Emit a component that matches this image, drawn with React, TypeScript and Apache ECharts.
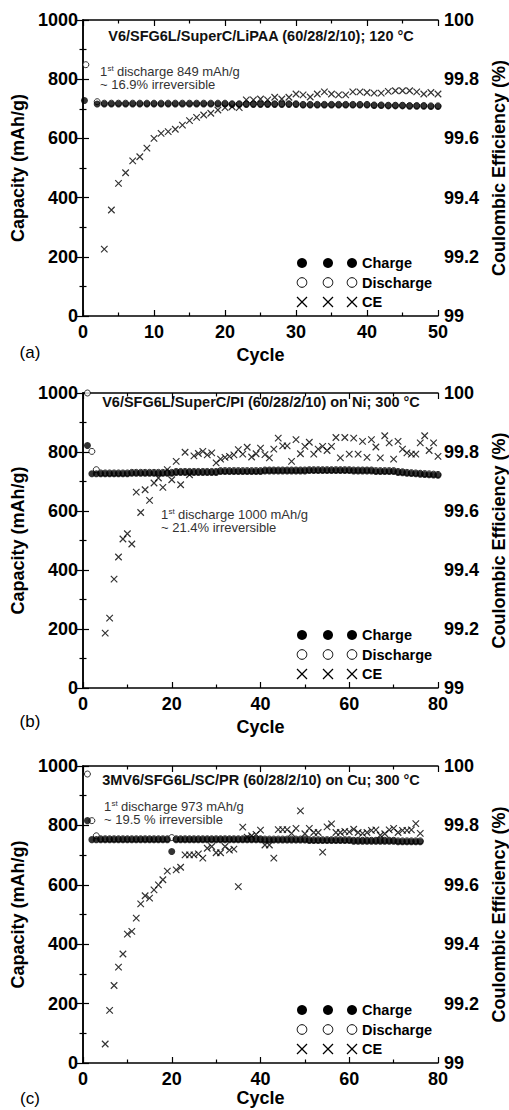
import { useEffect, useRef } from "react";
import * as echarts from "echarts";

const FONT = '"Liberation Sans", Arial, Helvetica, sans-serif';

// ---------------- Panel (a) ----------------
const titleA = "V6/SFG6L/SuperC/LiPAA (60/28/2/10); 120 °C";
const noteA = ["1", "st", "discharge 849 mAh/g", "~ 16.9% irreversible"];
const xMaxA = 50;
const xIntervalA = 10;
const firstChargeA = [[0.2, 728]];
const firstDischargeA = [[0.4, 849], [2, 724]];
const chargeAStart = 2;
const chargeA = [
  716, 716, 716, 716, 716, 716, 716, 716, 716,
  716, 716, 716, 716, 716, 716, 716, 716, 716, 716,
  715, 715, 715, 715, 715, 715, 715, 715, 715, 715,
  713, 713, 713, 713, 713, 713, 713, 713, 713, 713,
  711, 711, 710, 710, 710, 709, 709, 709, 708, 708,
];
const dischargeAStart = 3;
const dischargeA = [
  719, 719, 719, 719, 719, 719, 719, 719, 719, 719, 719, 719, 719, 719, 719, 719, 719, 719,
  717, 717, 717, 717, 717, 717, 717, 717, 717, 717,
  715, 715, 715, 715, 715, 715, 715, 715, 715, 715,
  713, 713, 712, 712, 712, 711, 711, 711, 710, 710,
];
const ceAStart = 3;
const ceA = [
  99.226, 99.358, 99.448, 99.484, 99.524, 99.538, 99.567, 99.6,
  99.617, 99.623, 99.631, 99.645, 99.66, 99.671, 99.679, 99.685, 99.696, 99.704,
  99.707, 99.704, 99.73, 99.73, 99.733, 99.73, 99.739, 99.733, 99.739, 99.75,
  99.747, 99.74, 99.75, 99.757, 99.75, 99.747, 99.747, 99.757, 99.757, 99.755,
  99.753, 99.753, 99.759, 99.761, 99.761, 99.761, 99.757, 99.75, 99.755, 99.75,
];

// ---------------- Panel (b) ----------------
const titleB = "V6/SFG6L/SuperC/PI (60/28/2/10) on Ni; 300 °C";
const noteB = ["1", "st", "discharge 1000 mAh/g", "~ 21.4% irreversible"];
const xMaxB = 80;
const xIntervalB = 20;
const firstChargeB = [[1, 822]];
const firstDischargeB = [[1, 1000], [2, 802], [3, 740]];
const chargeBStart = 2;
const chargeB = [
  726, 726, 726, 726, 726, 726, 726, 726, 726,
  728, 728, 728, 728, 728, 728, 728, 728, 728, 728,
  731, 731, 731, 731, 731, 731, 731, 731, 731, 731,
  734, 734, 734, 734, 734, 734, 734, 734, 734, 734,
  736, 736, 736, 736, 736, 736, 736, 736, 736, 736,
  737, 737, 737, 737, 737, 737, 737, 737, 737, 737,
  736, 736, 736, 736, 736, 734, 734, 734, 734, 734,
  731, 730, 728, 727, 726, 725, 724, 723, 722, 721,
];
const dischargeBStart = 4;
const dischargeB = [
  729, 729, 729, 729, 729, 729, 729,
  731, 731, 731, 731, 731, 731, 731, 731, 731, 731,
  734, 734, 734, 734, 734, 734, 734, 734, 734, 734,
  737, 737, 737, 737, 737, 737, 737, 737, 737, 737,
  739, 739, 739, 739, 739, 739, 739, 739, 739, 739,
  740, 740, 740, 740, 740, 740, 740, 740, 740, 740,
  739, 739, 739, 739, 739, 737, 737, 737, 737, 737,
  734, 733, 731, 730, 729, 728, 727, 726, 725, 724,
];
const ceBStart = 5;
const ceB = [
  99.186, 99.237, 99.369, 99.444, 99.505, 99.523, 99.488, 99.664, 99.595, 99.672,
  99.636, 99.695, 99.712, 99.68, 99.74, 99.706, 99.768, 99.689, 99.799, 99.723,
  99.787, 99.795, 99.802, 99.79, 99.797, 99.763, 99.776, 99.782, 99.785, 99.79,
  99.808, 99.793, 99.816, 99.783, 99.794, 99.813, 99.791, 99.78, 99.81, 99.847,
  99.821, 99.821, 99.768, 99.842, 99.794, 99.819, 99.833, 99.793, 99.81, 99.819,
  99.805, 99.819, 99.849, 99.78, 99.849, 99.793, 99.847, 99.793, 99.836, 99.782,
  99.842, 99.817, 99.78, 99.855, 99.831, 99.776, 99.836, 99.81, 99.797, 99.793,
  99.793, 99.831, 99.855, 99.805, 99.831, 99.785,
];

// ---------------- Panel (c) ----------------
const titleC = "3MV6/SFG6L/SC/PR (60/28/2/10) on Cu; 300 °C";
const noteC = ["1", "st", "discharge 973 mAh/g", "~ 19.5 % irreversible"];
const xMaxC = 80;
const xIntervalC = 20;
const firstChargeC = [[1, 816]];
const firstDischargeC = [[1, 973], [2, 816], [3, 765]];
const chargeCStart = 2;
const chargeC = [
  752, 752, 752, 752, 752, 752, 752, 752, 752, 752, 752, 752, 752, 752, 752, 752, 752, 752,
  712,
  752, 752, 752, 752, 752, 752, 752, 752, 752, 752,
  752, 752, 752, 752, 752, 752, 752, 752, 752, 752,
  751, 751, 751, 751, 751, 751, 751, 751, 751, 751,
  749, 749, 749, 749, 749, 749, 749, 749, 749, 749,
  747, 747, 747, 747, 747, 747, 747, 747, 747, 747,
  745, 745, 745, 745, 745, 745,
];
const dischargeCStart = 4;
const dischargeC = [
  755, 755, 755, 755, 755, 755, 755, 755, 755, 755, 755, 755, 755, 755, 755, 755,
  759,
  755, 755, 755, 755, 755, 755, 755, 755, 755, 755,
  755, 755, 755, 755, 755, 755, 755, 755, 755, 755,
  754, 754, 754, 754, 754, 754, 754, 754, 754, 754,
  752, 752, 752, 752, 752, 752, 752, 752, 752, 752,
  750, 750, 750, 750, 750, 750, 750, 750, 750, 750,
  748, 748, 748, 748, 748, 748,
];
const ceCStart = 5;
const ceC = [
  99.064, 99.177, 99.261, 99.323, 99.367, 99.434, 99.443, 99.488, 99.536, 99.563,
  99.555, 99.583, 99.6, 99.617, 99.646, null, 99.65, 99.659, 99.701, 99.701,
  99.701, 99.704, 99.69, 99.723, 99.729, 99.708, 99.708, 99.729, 99.717, 99.72,
  99.594, 99.794, 99.76, 99.765, 99.77, 99.784, 99.734, 99.734, 99.69, 99.786,
  99.786, 99.786, 99.773, 99.79, 99.849, 99.772, 99.79, 99.776, 99.776, 99.71,
  99.795, 99.805, 99.776, 99.776, 99.78, 99.778, 99.787, 99.776, 99.773, 99.776,
  99.783, 99.785, 99.767, 99.772, 99.785, 99.79, 99.776, 99.783, 99.783, 99.785,
  99.806, 99.773,
];

// shared axis labels / legend
const capMin = 0, capMax = 1000, capInterval = 200;
const ceMin = 99, ceMax = 100, ceInterval = 0.2;
const legendNames = ["Charge", "Discharge", "CE"];
const panelLabels = ["(a)", "(b)", "(c)"];
const xName = "Cycle";
const yNameLeft = "Capacity (mAh/g)";
const yNameRight = "Coulombic Efficiency (%)";

const toPairs = (start: number, arr: (number | null)[]) =>
  arr
    .map((v, i) => (v === null ? null : [start + i, v]))
    .filter((p) => p !== null) as number[][];

const panels = [
  {
    title: titleA, note: noteA, xMax: xMaxA, xInterval: xIntervalA,
    charge: [...firstChargeA, ...toPairs(chargeAStart, chargeA)],
    discharge: [...firstDischargeA, ...toPairs(dischargeAStart, dischargeA)],
    ce: toPairs(ceAStart, ceA),
    top: 20, height: 296, titleDy: 15.5, noteX: 100, noteY: 71, labelY: 352, xNameGap: 30,
  },
  {
    title: titleB, note: noteB, xMax: xMaxB, xInterval: xIntervalB,
    charge: [...firstChargeB, ...toPairs(chargeBStart, chargeB)],
    discharge: [...firstDischargeB, ...toPairs(dischargeBStart, dischargeB)],
    ce: toPairs(ceBStart, ceB),
    top: 393, height: 295, titleDy: 9, noteX: 161, noteY: 514, labelY: 721, xNameGap: 30,
  },
  {
    title: titleC, note: noteC, xMax: xMaxC, xInterval: xIntervalC,
    charge: [...firstChargeC, ...toPairs(chargeCStart, chargeC)],
    discharge: [...firstDischargeC, ...toPairs(dischargeCStart, dischargeC)],
    ce: toPairs(ceCStart, ceC),
    top: 766, height: 297, titleDy: 14, noteX: 104, noteY: 806, labelY: 1098, xNameGap: 26,
  },
];

const GRID_LEFT = 83;
const GRID_RIGHT = 71;
const X_PATH = "path://M0,0L10,10M10,0L0,10";

function buildOption() {
  const grid: any[] = [];
  const xAxis: any[] = [];
  const yAxis: any[] = [];
  const series: any[] = [];
  const graphic: any[] = [];

  const axisLine = { show: true, lineStyle: { color: "#000", width: 1.5 } };
  const tickStyle = { color: "#000", width: 1.2 };
  const labelFont = { color: "#000", fontFamily: FONT, fontWeight: "bold", fontSize: 18 };
  const nameFont = { color: "#000", fontFamily: FONT, fontWeight: "bold", fontSize: 18 };

  panels.forEach((p, k) => {
    grid.push({
      left: GRID_LEFT, right: GRID_RIGHT, top: p.top, height: p.height,
      containLabel: false, outerBoundsMode: "none",
    });
    const xb = {
      gridIndex: k, type: "value", min: 0, max: p.xMax, interval: p.xInterval,
      axisLine, splitLine: { show: false },
      axisTick: { show: true, inside: true, length: 6, lineStyle: tickStyle },
      minorTick: { show: true, splitNumber: 2, length: 3.5, lineStyle: tickStyle },
    };
    xAxis.push({
      ...xb, position: "bottom",
      axisLabel: { ...labelFont, margin: 7, formatter: (v: number) => String(v) },
      name: xName, nameLocation: "middle", nameGap: p.xNameGap, nameTextStyle: nameFont,
    });
    xAxis.push({ ...xb, position: "top", axisLabel: { show: false } });
    yAxis.push({
      gridIndex: k, type: "value", position: "left", min: capMin, max: capMax, interval: capInterval,
      axisLine, splitLine: { show: false },
      axisTick: { show: true, inside: true, length: 6, lineStyle: tickStyle },
      minorTick: { show: true, splitNumber: 2, length: 3.5, lineStyle: tickStyle },
      axisLabel: { ...labelFont, margin: 5, formatter: (v: number) => String(v) },
      name: yNameLeft, nameLocation: "middle", nameRotate: 90, nameGap: 43, nameTextStyle: nameFont,
    });
    yAxis.push({
      gridIndex: k, type: "value", position: "right", min: ceMin, max: ceMax, interval: ceInterval,
      axisLine, splitLine: { show: false },
      axisTick: { show: true, inside: true, length: 6, lineStyle: tickStyle },
      minorTick: { show: true, splitNumber: 2, length: 3.5, lineStyle: tickStyle },
      axisLabel: { ...labelFont, margin: 6, formatter: (v: number) => String(Math.round(v * 10) / 10) },
      name: yNameRight, nameLocation: "middle", nameRotate: 90, nameGap: 50, nameTextStyle: nameFont,
    });

    series.push({
      type: "scatter", name: legendNames[1], xAxisIndex: 2 * k, yAxisIndex: 2 * k,
      data: p.discharge, symbol: "circle", symbolSize: 6,
      itemStyle: { color: "#fff", borderColor: "#000", borderWidth: 1 },
    });
    series.push({
      type: "scatter", name: legendNames[0], xAxisIndex: 2 * k, yAxisIndex: 2 * k,
      data: p.charge, symbol: "circle", symbolSize: 7,
      itemStyle: { color: "#000" },
    });
    series.push({
      type: "scatter", name: legendNames[2], xAxisIndex: 2 * k, yAxisIndex: 2 * k + 1,
      data: p.ce, symbol: X_PATH, symbolSize: 6.5,
      itemStyle: { color: "none", borderColor: "#000", borderWidth: 1.2 },
    });

    // title inside the frame
    graphic.push({
      type: "text", x: 261, y: p.top + p.titleDy, z: 100,
      style: { text: p.title, font: `bold 14.5px ${FONT}`, fill: "#111", align: "center", verticalAlign: "middle" },
    });
    // annotation: "1" + superscript "st" + rest, then second line
    graphic.push({
      type: "text", x: p.noteX, y: p.noteY, z: 100,
      style: { text: p.note[0], font: `13px ${FONT}`, fill: "#333", align: "left", verticalAlign: "middle" },
    });
    graphic.push({
      type: "text", x: p.noteX + 7.4, y: p.noteY - 3, z: 100,
      style: { text: p.note[1], font: `8px ${FONT}`, fill: "#333", align: "left", verticalAlign: "middle" },
    });
    graphic.push({
      type: "text", x: p.noteX + 17, y: p.noteY, z: 100,
      style: { text: p.note[2], font: `13px ${FONT}`, fill: "#333", align: "left", verticalAlign: "middle" },
    });
    graphic.push({
      type: "text", x: p.noteX, y: p.noteY + 13.5, z: 100,
      style: { text: p.note[3], font: `13px ${FONT}`, fill: "#333", align: "left", verticalAlign: "middle" },
    });
    // legend
    const bottom = p.top + p.height;
    const rows = [bottom - 53, bottom - 33.5, bottom - 14];
    const xs = [302, 328, 352];
    xs.forEach((cx) => {
      graphic.push({ type: "circle", shape: { cx, cy: rows[0], r: 5 }, style: { fill: "#000" }, z: 100 });
      graphic.push({ type: "circle", shape: { cx, cy: rows[1], r: 4.8 }, style: { fill: "#fff", stroke: "#000", lineWidth: 1 }, z: 100 });
      graphic.push({ type: "line", shape: { x1: cx - 5, y1: rows[2] - 5, x2: cx + 5, y2: rows[2] + 5 }, style: { stroke: "#000", lineWidth: 1.2 }, z: 100 });
      graphic.push({ type: "line", shape: { x1: cx + 5, y1: rows[2] - 5, x2: cx - 5, y2: rows[2] + 5 }, style: { stroke: "#000", lineWidth: 1.2 }, z: 100 });
    });
    legendNames.forEach((nm, i) => {
      graphic.push({
        type: "text", x: 362, y: rows[i], z: 100,
        style: { text: nm, font: `bold 14.5px ${FONT}`, fill: "#000", verticalAlign: "middle", align: "left" },
      });
    });
    // panel label
    graphic.push({
      type: "text", x: 30, y: p.labelY, z: 100,
      style: { text: panelLabels[k], font: `17px ${FONT}`, fill: "#000", verticalAlign: "middle", align: "center" },
    });
  });

  return { animation: false, backgroundColor: "#fff", grid, xAxis, yAxis, series, graphic };
}

export default function App() {
  const ref = useRef<HTMLDivElement>(null);
  useEffect(() => {
    if (!ref.current) return;
    const chart = echarts.init(ref.current, undefined, { renderer: "svg" });
    chart.setOption(buildOption() as any);
    return () => chart.dispose();
  }, []);
  return (
    <div
      ref={ref}
      style={{ position: "absolute", left: 0, top: 0, width: 509, height: 1110, background: "#fff" }}
    />
  );
}
